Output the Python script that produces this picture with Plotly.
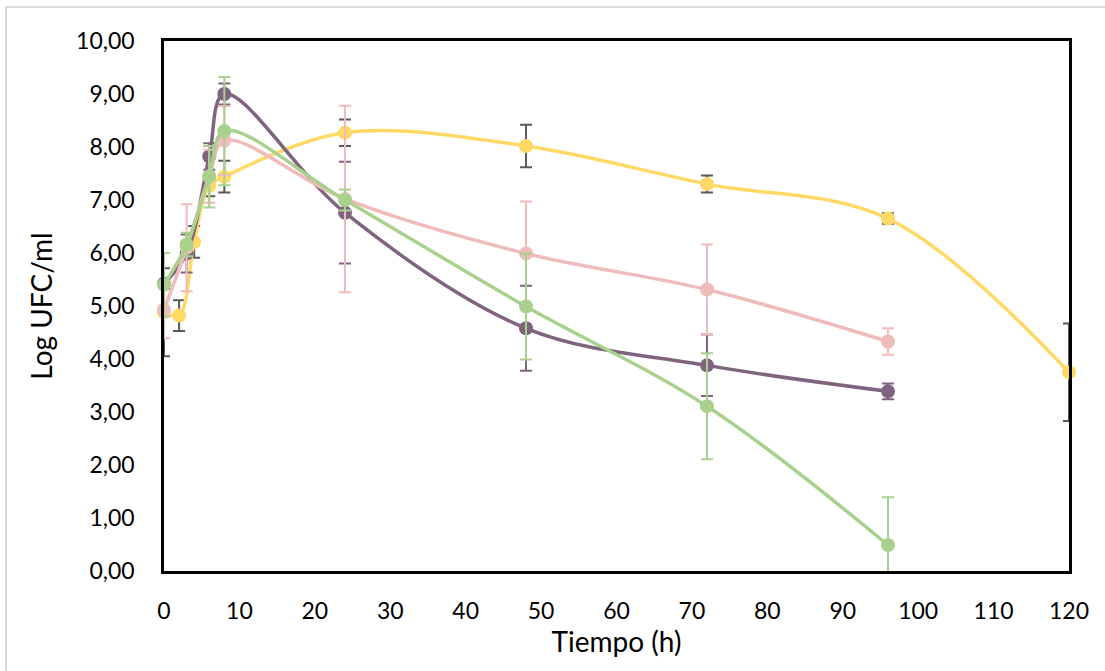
import plotly.graph_objects as go

# ---- data ----
x_purple = [0, 3, 6, 8, 24, 48, 72, 96]
y_purple = [5.42, 5.99, 7.82, 9.00, 6.76, 4.58, 3.88, 3.39]
e_purple = [0.10, 0.36, 0.25, 0.20, 0.96, 0.80, 0.58, 0.15]

x_pink = [0, 3, 6, 8, 24, 48, 72, 96]
y_pink = [4.93, 6.10, 7.45, 8.12, 7.02, 5.99, 5.31, 4.33]
e_pink = [0.54, 0.82, 0.50, 0.65, 1.76, 0.98, 0.85, 0.25]

x_green = [0, 3, 6, 8, 24, 48, 72, 96]
y_green = [5.40, 6.16, 7.44, 8.30, 7.00, 4.99, 3.11, 0.49]
e_green = [0.60, 0.22, 0.58, 1.02, 0.20, 1.00, 1.00, 0.90]

x_yellow = [0, 2, 4, 6, 8, 24, 48, 72, 96, 120]
y_yellow = [4.88, 4.82, 6.21, 7.27, 7.44, 8.27, 8.02, 7.30, 6.65, 3.75]
e_yellow = [0.83, 0.29, 0.30, 0.20, 0.30, 0.25, 0.40, 0.16, 0.10, 0.92]

y_ticks = [0, 1, 2, 3, 4, 5, 6, 7, 8, 9, 10]
y_ticklabels = ["0,00", "1,00", "2,00", "3,00", "4,00", "5,00", "6,00", "7,00", "8,00", "9,00", "10,00"]
x_ticks = list(range(0, 121, 10))

FONT = "Lato"

series = [
    (x_yellow, y_yellow, e_yellow, "#FFD966", "#595959"),
    (x_purple, y_purple, e_purple, "#7F6480", "#7F6480"),
    (x_pink, y_pink, e_pink, "#F0BBBB", "#F0BBBB"),
    (x_green, y_green, e_green, "#A9D18E", "#A9D18E"),
]

fig = go.Figure()
for xs, ys, es, col, ecol in series:
    fig.add_trace(go.Scatter(
        x=xs, y=ys, mode="lines+markers",
        line=dict(color=col, width=3.5, shape="spline", smoothing=1.0),
        marker=dict(color=col, size=14),
        error_y=dict(type="data", array=es, visible=True, color=ecol, thickness=2, width=6),
        showlegend=False, cliponaxis=False,
    ))

W_PLOT = 1069 - 164
H_PLOT = 571 - 41

fig.update_layout(
    width=1105, height=671,
    margin=dict(l=164, r=1105 - 1069, t=41, b=671 - 571),
    paper_bgcolor="white", plot_bgcolor="white",
    font=dict(family=FONT, color="black"),
    xaxis=dict(
        range=[0, 120], tickvals=x_ticks, showgrid=False, zeroline=False,
        showline=True, linecolor="black", linewidth=2.5, mirror=True,
        ticks="", ticklabelstandoff=18, automargin=False,
        tickfont=dict(size=23, family=FONT),
        title=dict(text="Tiempo (h)", font=dict(size=28, family=FONT), standoff=8),
    ),
    yaxis=dict(
        range=[0, 10], tickvals=y_ticks, ticktext=y_ticklabels, showgrid=False, zeroline=False,
        showline=True, linecolor="black", linewidth=2.5, mirror=True,
        ticks="", ticklabelstandoff=22, automargin=False,
        tickfont=dict(size=23, family=FONT),
        title=dict(text="Log UFC/ml", font=dict(size=28, family=FONT), standoff=16),
    ),
    shapes=[dict(
        type="rect", xref="paper", yref="paper",
        x0=(6 - 164) / W_PLOT, x1=(1130 - 164) / W_PLOT,
        y0=-(700 - 571) / H_PLOT, y1=1 + (41 - 7) / H_PLOT,
        line=dict(color="#D9D9D9", width=2), layer="below",
    )],
)

fig.write_html("out.html")
